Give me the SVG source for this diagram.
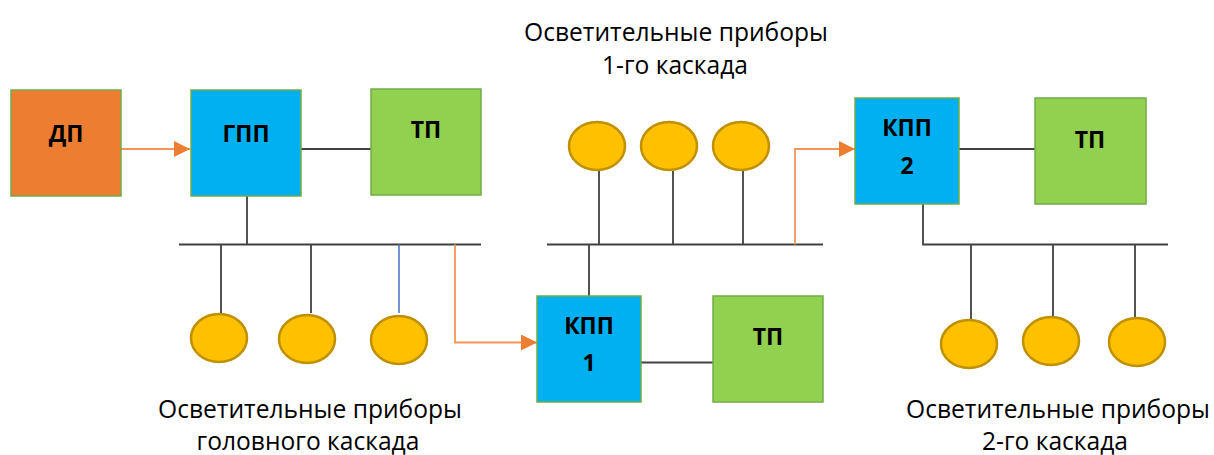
<svg xmlns="http://www.w3.org/2000/svg" width="1214" height="455" viewBox="0 0 1214 455">
<style>
.box{stroke:#70AD47;stroke-width:1.5}
.dp{fill:#ED7D31}
.pp{fill:#00B0F0}
.tp{fill:#92D050}
.lamp{fill:#FFC000;stroke:#BF9000;stroke-width:2.5}
.lbl{font-family:"Open Sans","Noto Sans",sans-serif;font-weight:bold;font-size:23px;fill:#000;text-anchor:middle}
.cap{font-family:"Open Sans","Noto Sans",sans-serif;font-size:24.6px;fill:#000;text-anchor:middle}
.ln{stroke:#404040;stroke-width:1.8;fill:none}
.or{stroke:#F4955A;stroke-width:1.8;fill:none}
.bl{stroke:#4472C4;stroke-width:1.5;fill:none}
</style>
<defs>
<marker id="ah" markerWidth="16" markerHeight="16" viewBox="0 0 16 16" refX="16" refY="8" orient="auto" markerUnits="userSpaceOnUse">
<path d="M0,0 L16,8 L0,16 Z" fill="#ED7D31"/>
</marker>
</defs>
<g id="connectors">
<line class="or" x1="121" y1="149" x2="190" y2="149" marker-end="url(#ah)"/>
<line class="ln" x1="301" y1="149" x2="371" y2="149"/>
<line class="ln" x1="247" y1="196" x2="247" y2="244.5"/>
<line class="ln" x1="179" y1="244.5" x2="481" y2="244.5"/>
<line class="ln" x1="221" y1="244.5" x2="221" y2="313"/>
<line class="ln" x1="311" y1="244.5" x2="311" y2="313"/>
<line class="bl" x1="399" y1="244.5" x2="399" y2="313"/>
<polyline class="or" points="455,244.5 455,342.5 537,342.5" marker-end="url(#ah)"/>
<line class="ln" x1="547" y1="244.5" x2="823" y2="244.5"/>
<line class="ln" x1="589" y1="244.5" x2="589" y2="296"/>
<line class="ln" x1="599" y1="171" x2="599" y2="244.5"/>
<line class="ln" x1="673" y1="171" x2="673" y2="244.5"/>
<line class="ln" x1="743" y1="171" x2="743" y2="244.5"/>
<polyline class="or" points="795,244.5 795,149 855,149" marker-end="url(#ah)"/>
<line class="ln" x1="641" y1="362.5" x2="713" y2="362.5"/>
<line class="ln" x1="959" y1="149" x2="1035" y2="149"/>
<polyline class="ln" points="923,204 923,244.5 1168,244.5"/>
<line class="ln" x1="971" y1="244.5" x2="971" y2="319"/>
<line class="ln" x1="1053" y1="244.5" x2="1053" y2="316"/>
<line class="ln" x1="1135" y1="244.5" x2="1135" y2="318"/>
</g>
<g id="dp"><rect class="box dp" x="11" y="90" width="110" height="106"/><text class="lbl" x="66" y="142">ДП</text></g>
<g id="gpp"><rect class="box pp" x="191" y="90" width="110" height="106"/><text class="lbl" x="246" y="142">ГПП</text></g>
<g id="tp0"><rect class="box tp" x="371" y="89" width="110" height="106"/><text class="lbl" x="426" y="138">ТП</text></g>
<g id="kpp1"><rect class="box pp" x="537" y="296" width="104" height="106"/><text class="lbl" x="589" y="334">КПП</text><text class="lbl" x="589" y="371">1</text></g>
<g id="tp1"><rect class="box tp" x="713" y="296" width="110" height="106"/><text class="lbl" x="768" y="345">ТП</text></g>
<g id="kpp2"><rect class="box pp" x="855" y="98" width="104" height="106"/><text class="lbl" x="907" y="136">КПП</text><text class="lbl" x="907" y="174">2</text></g>
<g id="tp2"><rect class="box tp" x="1035" y="98" width="111" height="106"/><text class="lbl" x="1090" y="148">ТП</text></g>
<g id="lamps0">
<ellipse class="lamp" cx="219" cy="338" rx="28" ry="24"/>
<ellipse class="lamp" cx="307" cy="339" rx="28" ry="24"/>
<ellipse class="lamp" cx="399" cy="340" rx="28" ry="24"/>
</g>
<g id="lamps1">
<ellipse class="lamp" cx="597" cy="146" rx="28" ry="24"/>
<ellipse class="lamp" cx="669" cy="146" rx="28" ry="24"/>
<ellipse class="lamp" cx="741" cy="146" rx="28" ry="24"/>
</g>
<g id="lamps2">
<ellipse class="lamp" cx="969" cy="344" rx="28" ry="24"/>
<ellipse class="lamp" cx="1051" cy="341" rx="28" ry="24"/>
<ellipse class="lamp" cx="1137" cy="342" rx="28" ry="24"/>
</g>
<g id="captions">
<text class="cap" x="676" y="41">Осветительные приборы</text>
<text class="cap" x="675" y="74">1-го каскада</text>
<text class="cap" x="310" y="418">Осветительные приборы</text>
<text class="cap" x="308" y="450">головного каскада</text>
<text class="cap" x="1058" y="418">Осветительные приборы</text>
<text class="cap" x="1055" y="450">2-го каскада</text>
</g>
</svg>
